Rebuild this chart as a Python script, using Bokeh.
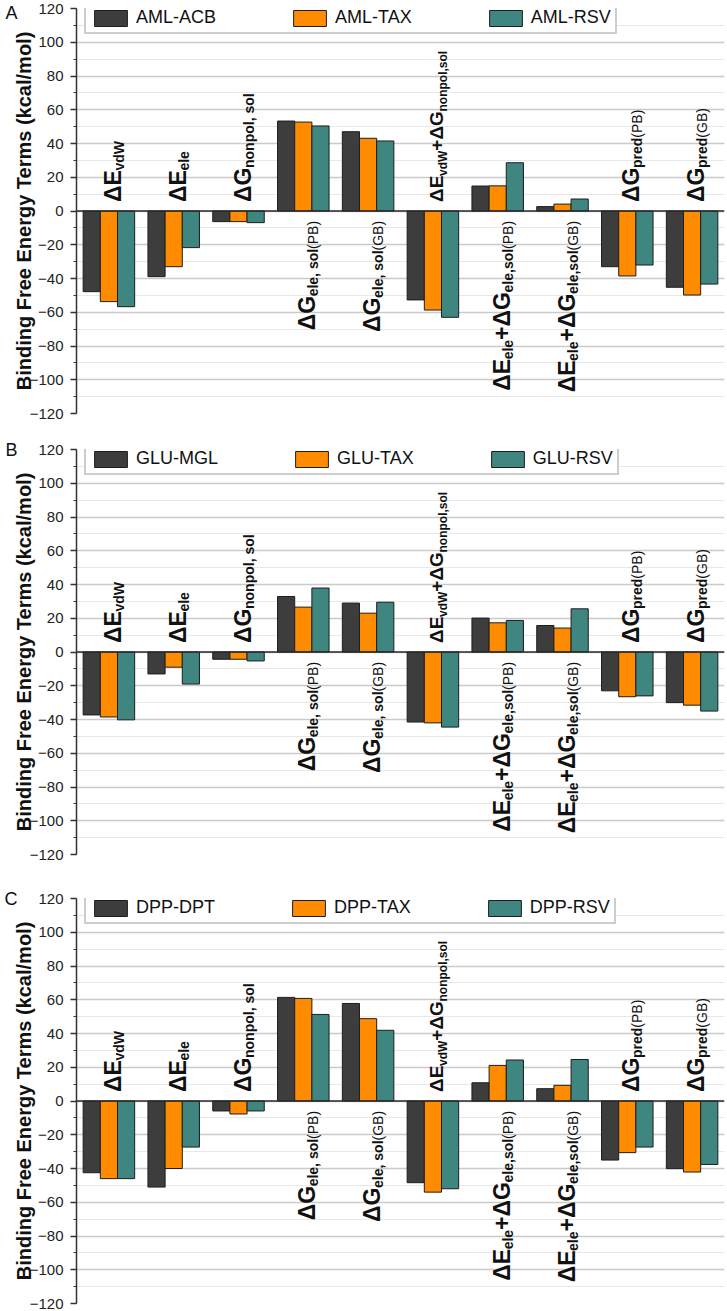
import math
from bokeh.plotting import figure
from bokeh.models import (ColumnDataSource, Range1d, SingleIntervalTicker, FixedTicker, Span,
                          Legend, LegendItem, LinearAxis)
from bokeh.layouts import column
from bokeh.embed import file_html
from bokeh.resources import INLINE
from bokeh.core.properties import value

# ---------------- data ----------------
categories = ["dEvdW", "dEele", "dGnonpol,sol", "dGele,sol(PB)", "dGele,sol(GB)",
              "dEvdW+dGnonpol,sol", "dEele+dGele,sol(PB)", "dEele+dGele,sol(GB)",
              "dGpred(PB)", "dGpred(GB)"]

# label pieces: (text, kind) kind: m = main bold, s = subscript bold, r = subscript regular
cat_labels = [
    [("ΔE", "m"), ("vdW", "s")],
    [("ΔE", "m"), ("ele", "s")],
    [("ΔG", "m"), ("nonpol, sol", "s")],
    [("ΔG", "m"), ("ele, sol", "s"), (" (PB)", "r")],
    [("ΔG", "m"), ("ele, sol", "s"), (" (GB)", "r")],
    [("ΔE", "m"), ("vdW", "s"), ("+ΔG", "m"), ("nonpol,sol", "s")],
    [("ΔE", "m"), ("ele", "s"), ("+ΔG", "m"), ("ele,sol", "s"), (" (PB)", "r")],
    [("ΔE", "m"), ("ele", "s"), ("+ΔG", "m"), ("ele,sol", "s"), (" (GB)", "r")],
    [("ΔG", "m"), ("pred", "s"), (" (PB)", "r")],
    [("ΔG", "m"), ("pred", "s"), (" (GB)", "r")],
]

panel_letters = ["A", "B", "C"]
series_A = ["AML-ACB", "AML-TAX", "AML-RSV"]
series_B = ["GLU-MGL", "GLU-TAX", "GLU-RSV"]
series_C = ["DPP-DPT", "DPP-TAX", "DPP-RSV"]

A_first = [-47.8, -38.9, -6.3, 53.3, 47.0, -52.7, 14.8, 2.6, -33.0, -45.2]
A_tax = [-53.7, -33.0, -6.3, 52.7, 43.1, -58.7, 14.9, 4.1, -38.5, -49.8]
A_rsv = [-56.7, -21.7, -6.9, 50.4, 41.5, -63.0, 28.6, 7.1, -32.0, -43.3]

B_first = [-37.3, -13.0, -4.3, 32.9, 29.0, -41.5, 20.1, 15.7, -23.0, -30.0]
B_tax = [-38.5, -9.0, -4.3, 26.6, 23.0, -42.0, 17.3, 14.2, -26.5, -31.5]
B_rsv = [-40.2, -19.0, -5.3, 37.9, 29.5, -44.5, 18.7, 25.6, -26.0, -35.0]

C_first = [-42.5, -51.0, -5.9, 61.4, 57.8, -48.4, 10.8, 7.3, -35.0, -40.1]
C_tax = [-46.0, -40.0, -7.7, 60.8, 48.8, -54.0, 21.1, 9.3, -30.6, -42.1]
C_rsv = [-46.0, -27.3, -5.9, 51.3, 41.9, -52.0, 24.3, 24.6, -27.3, -37.6]

y_min, y_max, y_step = -120, 120, 20

# ---------------- styling ----------------
COLORS = ["#3d3d3d", "#ff8c00", "#3f8580"]
FONT = "Liberation Sans"
FRAME_H = 405
LEFT = 76
RIGHT = 3
WIDTH = 727
FRAME_W = WIDTH - LEFT - RIGHT
PX_X = FRAME_W / 10.0
PX_Y = FRAME_H / float(y_max - y_min)
BAR_W = 0.265

# label font sizes (main, sub) per category
label_sizes = [(23, 14)] * 10
label_sizes[5] = (19, 12)

W_BOLD = {' ': .278, '(': .333, ')': .333, '+': .584, ',': .278, '-': .333,
          'B': .722, 'E': .667, 'G': .778, 'P': .667, 'W': .944, 'Δ': .70,
          'a': .556, 'd': .611, 'e': .556, 'l': .278, 'n': .611, 'o': .611,
          'p': .611, 'r': .389, 's': .556, 'v': .556}
W_REG = {' ': .278, '(': .333, ')': .333, 'P': .667, 'B': .667, 'G': .778}


def tw(s, size, bold):
    tab = W_BOLD if bold else W_REG
    return sum(tab.get(ch, 0.6) for ch in s) * size


def make_panel(letter, names, vals, top_border, bottom_border):
    height = FRAME_H + top_border + bottom_border
    p = figure(width=WIDTH, height=height, output_backend="svg", toolbar_location=None,
               x_range=Range1d(0, 10), y_range=Range1d(y_min, y_max),
               x_axis_location=None, title=None,
               min_border_left=LEFT, min_border_right=RIGHT,
               min_border_top=top_border, min_border_bottom=bottom_border)
    p.outline_line_color = None
    p.background_fill_color = "white"
    p.xgrid.visible = False
    p.ygrid.grid_line_color = "#cacaca"
    p.ygrid.grid_line_width = 1.5
    p.ygrid.minor_grid_line_color = "#e8e8e8"
    p.ygrid.minor_grid_line_width = 1.2
    ax = p.yaxis[0]
    ax.ticker = SingleIntervalTicker(interval=y_step, num_minor_ticks=2)
    ax.axis_line_color = "#333333"
    ax.axis_line_width = 1.5
    ax.major_tick_line_color = "#333333"
    ax.major_tick_line_width = 1.5
    ax.major_tick_out = 6
    ax.major_tick_in = 0
    ax.minor_tick_line_color = "#333333"
    ax.minor_tick_out = 3
    ax.minor_tick_in = 0
    ax.major_label_text_font = FONT
    ax.major_label_text_font_size = "15px"
    ax.major_label_text_color = "#222222"
    ax.major_label_standoff = 7
    ax.axis_label = "Binding Free Energy Terms (kcal/mol)"
    ax.axis_label_text_font = FONT
    ax.axis_label_text_font_style = "bold"
    ax.axis_label_text_font_size = "20px"
    ax.axis_label_text_color = "#111111"
    ax.axis_label_standoff = -8

    # panel letter as an outer, tick-less axis label at the top
    lax = LinearAxis(ticker=FixedTicker(ticks=[y_max], minor_ticks=[]),
                     major_label_overrides={y_max: letter},
                     axis_line_color=None, major_tick_line_color=None,
                     minor_tick_line_color=None, major_tick_out=0, major_tick_in=0,
                     major_label_standoff=-8, major_label_text_font=FONT,
                     major_label_text_font_size="18px", major_label_text_color="#111111")
    p.add_layout(lax, "left")

    offsets = [-BAR_W, 0.0, BAR_W]
    renderers = []
    for k in range(3):
        src = ColumnDataSource(dict(x=[i + 0.5 + offsets[k] for i in range(10)],
                                    top=vals[k]))
        r = p.vbar(x="x", top="top", bottom=0, width=BAR_W, source=src,
                   fill_color=COLORS[k], line_color="#1e1e1e", line_width=1)
        renderers.append(r)

    p.add_layout(Span(location=0, dimension="width", line_color="#2a2a2a", line_width=1.6))

    # category labels
    xs, ys, texts, sizes, styles = [], [], [], [], []
    for gi, segs in enumerate(cat_labels):
        M, S = label_sizes[gi]
        total = 0.0
        for t, kind in segs:
            total += tw(t, M if kind == "m" else S, kind != "r")
        group_sum = sum(v[gi] for v in vals)
        start = -(6 + total) if group_sum > 0 else 9.0
        pos = start
        for t, kind in segs:
            size = M if kind == "m" else S
            dx = 4 if kind == "m" else 10
            xs.append(gi + 0.5 + dx / PX_X)
            ys.append(pos / PX_Y)
            texts.append(t)
            sizes.append("%dpx" % size)
            styles.append("normal" if kind == "r" else "bold")
            pos += tw(t, size, kind != "r")
    lsrc = ColumnDataSource(dict(x=xs, y=ys, text=texts, size=sizes, style=styles))
    p.text(x="x", y="y", text="text", source=lsrc, angle=math.pi / 2,
           text_align="left", text_baseline="alphabetic",
           text_font=value(FONT), text_font_size="size", text_font_style="style",
           text_color="#111111")

    legend = Legend(items=[LegendItem(label=names[k], renderers=[renderers[k]]) for k in range(3)],
                    orientation="horizontal", location=(8, FRAME_H - 26),
                    glyph_width=41, glyph_height=20, label_standoff=5, spacing=73,
                    padding=4, margin=0,
                    border_line_color="#9c9c9c", border_line_width=2,
                    background_fill_color="white", background_fill_alpha=1.0,
                    label_text_font=FONT, label_text_font_size="18px",
                    label_text_color="#111111")
    p.add_layout(legend)
    return p


pA = make_panel(panel_letters[0], series_A, [A_first, A_tax, A_rsv], 8, 18)
pB = make_panel(panel_letters[1], series_B, [B_first, B_tax, B_rsv], 18, 22)
pC = make_panel(panel_letters[2], series_C, [C_first, C_tax, C_rsv], 22, 7)

layout = column(pA, pB, pC, spacing=0)
open("out.html", "w").write(file_html(layout, INLINE))
